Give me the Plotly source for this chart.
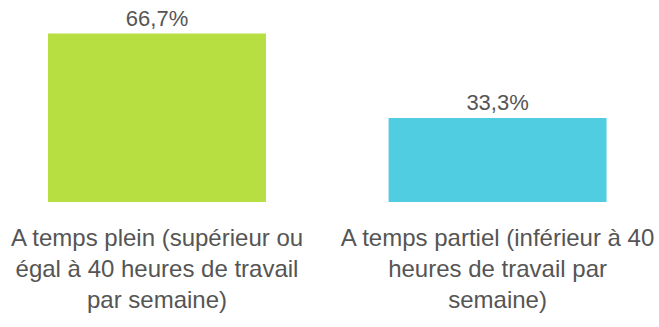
import plotly.graph_objects as go

# Share of respondents by working-time category
categories = [
    "A temps plein (supérieur ou<br>égal à 40 heures de travail<br>par semaine)",
    "A temps partiel (inférieur à 40<br>heures de travail par<br>semaine)",
]
shares = [66.7, 33.3]
bar_colors = ["#b8df42", "#50cde0"]

text_color = "#555555"
font_family = "Liberation Sans, Arial, sans-serif"

fig = go.Figure(
    go.Bar(
        x=[0, 1],
        y=shares,
        width=0.64,
        marker=dict(color=bar_colors, line=dict(width=0)),
        texttemplate="%{y:.1f}%",
        textposition="outside",
        textfont=dict(size=22, color=text_color, family=font_family),
        cliponaxis=False,
        hoverinfo="skip",
    )
)

fig.update_layout(
    width=659,
    height=327,
    margin=dict(l=0, r=0, t=0, b=125),
    paper_bgcolor="white",
    plot_bgcolor="white",
    separators=", ",
    showlegend=False,
    font=dict(family=font_family, color=text_color),
)

fig.update_xaxes(
    range=[-0.461, 1.474],
    tickvals=[0, 1],
    ticktext=categories,
    tickfont=dict(size=24, color=text_color, family=font_family),
    ticks="",
    showline=False,
    showgrid=False,
    zeroline=False,
    ticklabelstandoff=19,
)
fig.update_yaxes(
    range=[0, 80],
    visible=False,
    showgrid=False,
    zeroline=False,
)

fig.write_html("out.html")
